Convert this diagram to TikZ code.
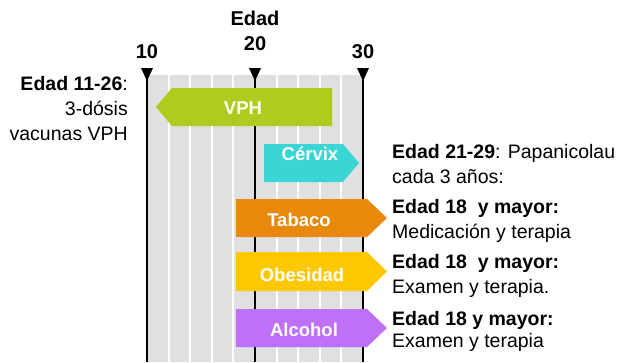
\documentclass[tikz,border=0pt]{standalone}
\usepackage{fontspec}
\setmainfont{Liberation Sans}
\definecolor{bggray}{HTML}{E0E0E0}
\definecolor{cvph}{HTML}{AECB1E}
\definecolor{ccerv}{HTML}{3CD5D5}
\definecolor{ctab}{HTML}{E8890B}
\definecolor{cobe}{HTML}{FFC800}
\definecolor{calc}{HTML}{BF70F8}
\tikzset{
  grid white/.style={white, line width=2pt},
  grid black/.style={black, line width=2pt},
  marker/.style={fill=black},
  bartext/.style={text=white, font=\fontsize{18.5}{20}\selectfont\bfseries, inner sep=0pt},
  note/.style={anchor=base west, inner sep=0pt, font=\fontsize{19.5}{22}\selectfont},
  lnote/.style={anchor=base east, inner sep=0pt, font=\fontsize{19.5}{22}\selectfont},
  axis label/.style={anchor=base, inner sep=0pt, font=\fontsize{20}{22}\selectfont\bfseries},
}
\begin{document}
\begin{tikzpicture}[x=1pt,y=-1pt]
\useasboundingbox (0,0) rectangle (620,362);
% background band
\fill[bggray] (147,75) rectangle (363,362);
\foreach \a in {12,14,16,18,22,24,26,28}
  \draw[grid white] ({147+10.8*(\a-10)},75) -- ({147+10.8*(\a-10)},362);
% axis markers
\foreach \n/\xx in {t10/147,t20/255,t30/363}{
  \coordinate (\n) at (\xx,68);
  \coordinate (\n b) at (\xx,362);
  \draw[grid black] (\n) -- (\n b);
  \fill[marker] (\xx-6,68) -- (\xx+6,68) -- (\xx,81) -- cycle;
}
\node[axis label] (edad) at (255,25) {Edad};
\node[axis label] (l10) at (147,58) {10};
\node[axis label] (l20) at (255,50) {20};
\node[axis label] (l30) at (363,58) {30};
% bars
\fill[cvph] (332,88) -- (172,88) -- (156,107) -- (172,126) -- (332,126) -- cycle;
\node[bartext] (vph) at (243,108) {VPH};
\fill[ccerv] (264,144) -- (343,144) -- (359,163) -- (343,182) -- (264,182) -- cycle;
\node[bartext] (cerv) at (310,154) {Cérvix};
\fill[ctab] (236,199) -- (367,199) -- (387,218) -- (367,237) -- (236,237) -- cycle;
\node[bartext] (tab) at (299,220) {Tabaco};
\fill[cobe] (236,252) -- (367,252) -- (387,271.5) -- (367,291) -- (236,291) -- cycle;
\node[bartext] (obe) at (302,275) {Obesidad};
\fill[calc] (236,309) -- (367,309) -- (387,328) -- (367,347) -- (236,347) -- cycle;
\node[bartext] (alc) at (304,330) {Alcohol};
% left note
\node[lnote] (vphA) at (128,90) {\textbf{Edad 11-26}:};
\node[lnote] (vphB) at (128,115) {3-dósis};
\node[lnote] (vphC) at (128,140) {vacunas VPH};
% right notes
\node[note] (cervA) at (392,158) {\textbf{Edad 21-29}: Papanicolau};
\node[note] (cervB) at (392,183) {cada 3 años:};
\node[note] (tabA) at (392,213) {\textbf{Edad 18\ \ y mayor:}};
\node[note] (tabB) at (392,238) {Medicación y terapia};
\node[note] (obeA) at (392,268) {\textbf{Edad 18\ \ y mayor:}};
\node[note] (obeB) at (392,293) {Examen y terapia.};
\node[note] (alcA) at (392,325) {\textbf{Edad 18 y mayor:}};
\node[note] (alcB) at (392,347) {Examen y terapia};
\end{tikzpicture}
\end{document}
